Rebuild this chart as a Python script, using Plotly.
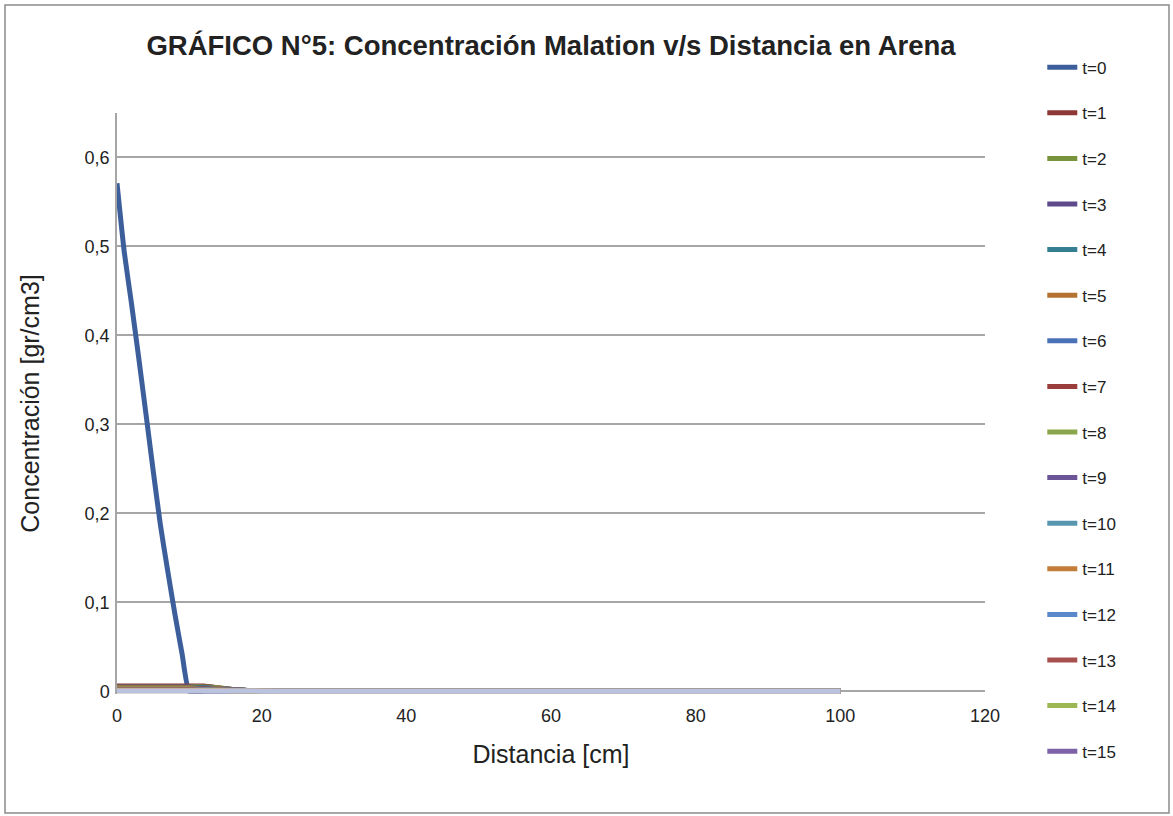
import plotly.graph_objects as go

# Distances [cm]
distancia = [0, 1, 2, 3, 4, 5, 6, 7, 8, 9, 10, 12, 14, 16, 18, 20, 25, 30, 40, 50, 60, 70, 80, 90, 100]

# Concentration series [gr/cm3]
t0 = [0.571, 0.494, 0.436, 0.375, 0.312, 0.248, 0.187, 0.136, 0.087, 0.042, 0.0,
      0.0, 0.0, 0.0, 0.0, 0.0, 0.0, 0.0, 0.0, 0.0, 0.0, 0.0, 0.0, 0.0, 0.0]
t1 = [0.006, 0.006, 0.006, 0.006, 0.006, 0.006, 0.006, 0.006, 0.006, 0.006, 0.006,
      0.006, 0.004, 0.002, 0.001, 0.0005, 0.0, 0.0, 0.0, 0.0, 0.0, 0.0, 0.0, 0.0, 0.0]
t2 = [0.005, 0.005, 0.005, 0.005, 0.005, 0.005, 0.005, 0.005, 0.005, 0.005, 0.005,
      0.005, 0.004, 0.002, 0.001, 0.0005, 0.0, 0.0, 0.0, 0.0, 0.0, 0.0, 0.0, 0.0, 0.0]
t3 = [0.005, 0.005, 0.005, 0.005, 0.005, 0.005, 0.005, 0.005, 0.005, 0.005, 0.005,
      0.004, 0.003, 0.002, 0.001, 0.0005, 0.0, 0.0, 0.0, 0.0, 0.0, 0.0, 0.0, 0.0, 0.0]
t4 = [0.004, 0.004, 0.004, 0.004, 0.004, 0.004, 0.004, 0.004, 0.004, 0.004, 0.004,
      0.004, 0.003, 0.002, 0.001, 0.0005, 0.0, 0.0, 0.0, 0.0, 0.0, 0.0, 0.0, 0.0, 0.0]
t5 = [0.004, 0.004, 0.004, 0.004, 0.004, 0.004, 0.004, 0.004, 0.004, 0.004, 0.004,
      0.003, 0.003, 0.002, 0.001, 0.0005, 0.0, 0.0, 0.0, 0.0, 0.0, 0.0, 0.0, 0.0, 0.0]
t6 = [0.003, 0.003, 0.003, 0.003, 0.003, 0.003, 0.003, 0.003, 0.003, 0.003, 0.003,
      0.003, 0.002, 0.002, 0.001, 0.0005, 0.0, 0.0, 0.0, 0.0, 0.0, 0.0, 0.0, 0.0, 0.0]
t7 = [0.003, 0.003, 0.003, 0.003, 0.003, 0.003, 0.003, 0.003, 0.003, 0.003, 0.003,
      0.003, 0.002, 0.0015, 0.001, 0.0005, 0.0, 0.0, 0.0, 0.0, 0.0, 0.0, 0.0, 0.0, 0.0]
t8 = [0.003, 0.003, 0.003, 0.003, 0.003, 0.003, 0.003, 0.003, 0.003, 0.003, 0.003,
      0.002, 0.002, 0.0015, 0.001, 0.0005, 0.0, 0.0, 0.0, 0.0, 0.0, 0.0, 0.0, 0.0, 0.0]
t9 = [0.002, 0.002, 0.002, 0.002, 0.002, 0.002, 0.002, 0.002, 0.002, 0.002, 0.002,
      0.002, 0.002, 0.0015, 0.001, 0.0005, 0.0, 0.0, 0.0, 0.0, 0.0, 0.0, 0.0, 0.0, 0.0]
t10 = [0.002, 0.002, 0.002, 0.002, 0.002, 0.002, 0.002, 0.002, 0.002, 0.002, 0.002,
       0.002, 0.0015, 0.001, 0.001, 0.0005, 0.0, 0.0, 0.0, 0.0, 0.0, 0.0, 0.0, 0.0, 0.0]
t11 = [0.002, 0.002, 0.002, 0.002, 0.002, 0.002, 0.002, 0.002, 0.002, 0.002, 0.002,
       0.0015, 0.0015, 0.001, 0.001, 0.0005, 0.0, 0.0, 0.0, 0.0, 0.0, 0.0, 0.0, 0.0, 0.0]
t12 = [0.0015, 0.0015, 0.0015, 0.0015, 0.0015, 0.0015, 0.0015, 0.0015, 0.0015, 0.0015, 0.0015,
       0.0015, 0.001, 0.001, 0.0008, 0.0005, 0.0, 0.0, 0.0, 0.0, 0.0, 0.0, 0.0, 0.0, 0.0]
t13 = [0.0015, 0.0015, 0.0015, 0.0015, 0.0015, 0.0015, 0.0015, 0.0015, 0.0015, 0.0015, 0.0015,
       0.001, 0.001, 0.001, 0.0008, 0.0005, 0.0, 0.0, 0.0, 0.0, 0.0, 0.0, 0.0, 0.0, 0.0]
t14 = [0.001, 0.001, 0.001, 0.001, 0.001, 0.001, 0.001, 0.001, 0.001, 0.001, 0.001,
       0.001, 0.001, 0.0008, 0.0006, 0.0004, 0.0, 0.0, 0.0, 0.0, 0.0, 0.0, 0.0, 0.0, 0.0]
t15 = [0.001, 0.001, 0.001, 0.001, 0.001, 0.001, 0.001, 0.001, 0.001, 0.001, 0.001,
       0.001, 0.0008, 0.0008, 0.0006, 0.0004, 0.0, 0.0, 0.0, 0.0, 0.0, 0.0, 0.0, 0.0, 0.0]
t16 = [0.0008, 0.0008, 0.0008, 0.0008, 0.0008, 0.0008, 0.0008, 0.0008, 0.0008, 0.0008, 0.0008,
       0.0008, 0.0008, 0.0006, 0.0005, 0.0003, 0.0, 0.0, 0.0, 0.0, 0.0, 0.0, 0.0, 0.0, 0.0]
t17 = [0.0006, 0.0006, 0.0006, 0.0006, 0.0006, 0.0006, 0.0006, 0.0006, 0.0006, 0.0006, 0.0006,
       0.0006, 0.0006, 0.0005, 0.0004, 0.0003, 0.0, 0.0, 0.0, 0.0, 0.0, 0.0, 0.0, 0.0, 0.0]
t18 = [0.0005, 0.0005, 0.0005, 0.0005, 0.0005, 0.0005, 0.0005, 0.0005, 0.0005, 0.0005, 0.0005,
       0.0005, 0.0005, 0.0004, 0.0003, 0.0002, 0.0001, 0.0, 0.0, 0.0, 0.0, 0.0, 0.0, 0.0, 0.0]

series = [t0, t1, t2, t3, t4, t5, t6, t7, t8, t9, t10, t11, t12, t13, t14, t15, t16, t17, t18]
nombres = ["t=%d" % i for i in range(len(series))]
colores = ["#3C5F9B", "#8C3836", "#77933C", "#5F4A8B", "#357D91", "#B3722F",
           "#4A72B8", "#9A3E3B", "#8AA64A", "#6C5596", "#5896B0", "#C27D38",
           "#5B87CB", "#A8504D", "#9CB855", "#7E62A8", "#69AFC8", "#F09D52",
           "#B9C3DF"]
n_leyenda = 16  # legend shows t=0 .. t=15

FONT = "Liberation Sans, Arial"

fig = go.Figure()
for i, (vals, nom, col) in enumerate(zip(series, nombres, colores)):
    fig.add_trace(go.Scatter(
        x=distancia, y=vals, name=nom, mode="lines",
        line=dict(color=col, width=5, shape="spline", smoothing=0.5),
        showlegend=i < n_leyenda, legendgroup=nom,
    ))

grid = "#A6A6A6"
fig.update_layout(
    width=1173, height=816,
    margin=dict(l=117, r=188, t=113, b=122),
    paper_bgcolor="white", plot_bgcolor="white",
    separators=",.",
    font=dict(family=FONT, color="#222222"),
    title=dict(text="<b>GRÁFICO N°5: Concentración Malation v/s Distancia en Arena</b>",
               x=0.5, xref="paper", xanchor="center",
               y=1 - 45 / 816, yref="container", yanchor="middle",
               font=dict(family=FONT, size=27.5, color="#222222")),
    xaxis=dict(range=[0, 120], dtick=20, tick0=0, showgrid=False,
               showline=False, zeroline=False,
               ticks="", tickfont=dict(size=18, family=FONT), ticklabelstandoff=9,
               title=dict(text="Distancia [cm]", font=dict(size=25, family=FONT), standoff=20)),
    yaxis=dict(range=[-0.003, 0.65], dtick=0.1, tick0=0, showgrid=True, gridcolor=grid, gridwidth=1.5,
               showline=True, linecolor=grid, linewidth=1.5,
               zeroline=True, zerolinecolor=grid, zerolinewidth=1.5,
               ticks="", tickfont=dict(size=18, family=FONT), ticklabelstandoff=2,
               title=dict(text="Concentración [gr/cm3]", font=dict(size=25, family=FONT), standoff=38)),
    legend=dict(x=1.066, xanchor="left", y=1.109, yanchor="top",
                font=dict(size=17, family=FONT), tracegroupgap=20.5,
                bgcolor="rgba(0,0,0,0)", itemwidth=30, maxheight=1.0),
    shapes=[dict(type="rect", xref="paper", yref="paper",
                 x0=(5 - 117) / 868, x1=(1169 - 117) / 868,
                 y0=(694 - 813) / 581, y1=(694 - 5) / 581,
                 line=dict(color="#8C8C8C", width=1.5), fillcolor="rgba(0,0,0,0)", layer="below")],
)

fig.write_html("out.html")
